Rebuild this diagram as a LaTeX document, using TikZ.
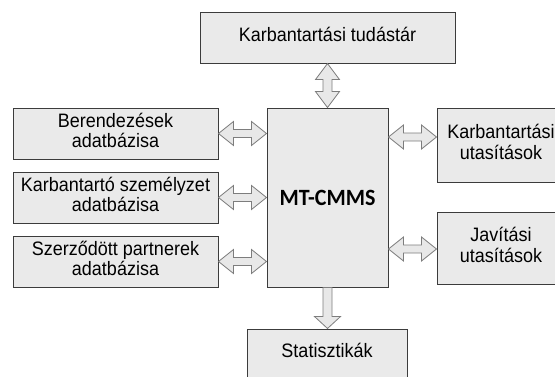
\documentclass[tikz,border=0pt]{standalone}
\usepackage{fontspec}
\usepackage{graphicx}
\setmainfont{Liberation Sans}
\newfontfamily\calfont{Carlito}
\usetikzlibrary{calc}
\definecolor{boxfill}{RGB}{234,234,234}
\definecolor{boxline}{RGB}{60,60,60}
\definecolor{arrfill}{RGB}{232,232,232}
\definecolor{arrline}{RGB}{125,125,125}
\newcommand\stx[1]{\scalebox{1}[1.08]{\begin{tabular}{@{}c@{}}#1\end{tabular}}}
\tikzset{
  box/.style={draw=boxline, fill=boxfill, line width=1pt, rectangle, inner sep=0pt,
    font=\fontsize{18}{18.8}\selectfont},
  arr/.style={draw=arrline, fill=arrfill, line width=0.8pt, line join=miter},
}
\newcommand\hdbl[2]{%
  \draw[arr] let \p1=#1, \p2=#2 in
    (\x1,\y1) -- (\x1+15pt,\y1+12pt) -- (\x1+15pt,\y1+4pt) -- (\x2-15pt,\y1+4pt)
    -- (\x2-15pt,\y1+12pt) -- (\x2,\y1) -- (\x2-15pt,\y1-12pt) -- (\x2-15pt,\y1-4pt)
    -- (\x1+15pt,\y1-4pt) -- (\x1+15pt,\y1-12pt) -- cycle;}
\begin{document}
\begin{tikzpicture}[x=1pt,y=-1pt]
\clip (0,0) rectangle (555,376);
\fill[white] (0,0) rectangle (555,376);
% boxes
\node[box, minimum width=255pt, minimum height=50.5pt] (top) at (327.5,37.75) {\stx{Karbantartási tudástár}};
\node[box, minimum width=121pt, minimum height=179pt] (c) at (327.5,197.5)
  {\calfont\bfseries\fontsize{22}{24}\selectfont\scalebox{1}[1.06]{MT-CMMS}};
\node[box, minimum width=205pt, minimum height=51pt] (l1) at (115.5,133.5) {\stx{Berendezések\\adatbázisa}};
\node[box, minimum width=205pt, minimum height=51pt] (l2) at (115.5,197.5) {\stx{Karbantartó személyzet\\adatbázisa}};
\node[box, minimum width=205pt, minimum height=51pt] (l3) at (115.5,261.5) {\stx{Szerződött partnerek\\adatbázisa}};
\node[box, minimum width=128pt, minimum height=74pt] (r1) at (501,145) {\stx{Karbantartási\\utasítások}};
\node[box, minimum width=128pt, minimum height=72pt] (r2) at (501,248) {\stx{Javítási\\utasítások}};
\node[box, minimum width=160pt, minimum height=49pt] (st) at (327,353.5) {\stx{Statisztikák}};
% horizontal double arrows
\hdbl{(l1.east)}{(c.west |- l1.east)}
\hdbl{(l2.east)}{(c.west |- l2.east)}
\hdbl{(l3.east)}{(c.west |- l3.east)}
\hdbl{(c.east |- 0,137)}{(r1.west |- 0,137)}
\hdbl{(c.east |- 0,249)}{(r2.west |- 0,249)}
% vertical double arrow
\draw[arr] let \p1=(top.south), \p2=(c.north) in
  (\x1,\y1) -- (\x1+12pt,\y1-16pt) -- (\x1+4.5pt,\y1-16pt) -- (\x1+4.5pt,\y2+16pt)
  -- (\x1+12pt,\y2+16pt) -- (\x1,\y2) -- (\x1-12pt,\y2+16pt) -- (\x1-4.5pt,\y2+16pt)
  -- (\x1-4.5pt,\y1-16pt) -- (\x1-12pt,\y1-16pt) -- cycle;
% down arrow
\draw[arr] let \p1=(c.south), \p2=(st.north) in
  (\x1-4.5pt,\y1) -- (\x1+4.5pt,\y1) -- (\x1+4.5pt,\y2+12pt) -- (\x1+13pt,\y2+12pt)
  -- (\x1,\y2) -- (\x1-13pt,\y2+12pt) -- (\x1-4.5pt,\y2+12pt) -- cycle;
\end{tikzpicture}
\end{document}
